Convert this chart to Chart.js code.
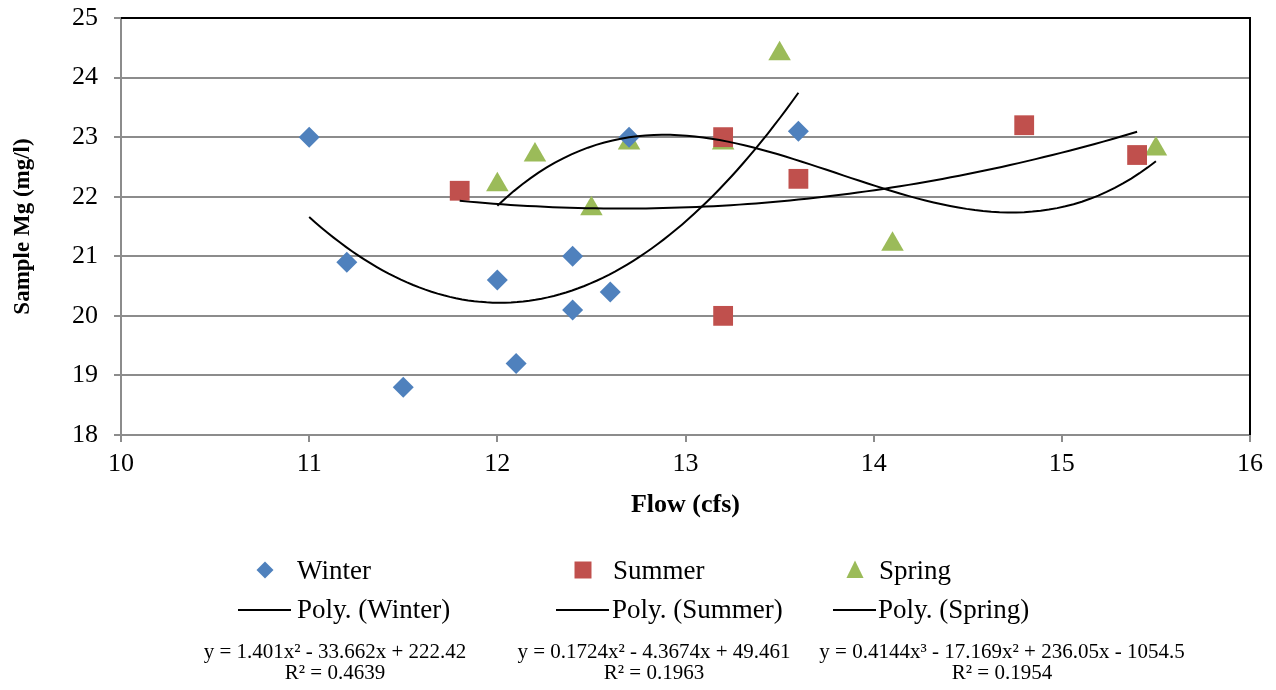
<!DOCTYPE html>
<html>
<head>
<meta charset="utf-8">
<script src="https://cdn.jsdelivr.net/npm/chart.js@4.4.1/dist/chart.umd.min.js"></script>
<style>
  html, body { margin: 0; padding: 0; background: #fff; }
  #wrap { width: 1276px; height: 690px; }
</style>
</head>
<body>
<div id="wrap"><canvas id="mgChart" width="1276" height="690"></canvas></div>
<script>
// Readings
const winterFlow = [11.0, 11.2, 11.5, 12.0, 12.1, 12.4, 12.4, 12.6, 12.7, 13.6];
const winterMg   = [23.0, 20.9, 18.8, 20.6, 19.2, 21.0, 20.1, 20.4, 23.0, 23.1];

const summerFlow = [11.8, 13.2, 13.2, 13.6, 14.8, 15.4];
const summerMg   = [22.1, 23.0, 20.0, 22.3, 23.2, 22.7];

const springFlow = [12.0, 12.2, 12.5, 12.7, 13.2, 13.5, 14.1, 15.5];
const springMg   = [22.2, 22.7, 21.8, 22.9, 22.9, 24.4, 21.2, 22.8];

// Trendline coefficients as printed under the chart (highest power first)
const winterCoef = [1.401, -33.662, 222.42];
const summerCoef = [0.1724, -4.3674, 49.461];
const springCoef = [0.4144, -17.169, 236.05, -1054.5];

const seriesNames = ['Winter', 'Summer', 'Spring'];
const trendNames = ['Poly. (Winter)', 'Poly. (Summer)', 'Poly. (Spring)'];
const equations = [
  'y = 1.401x² - 33.662x + 222.42',
  'y = 0.1724x² - 4.3674x + 49.461',
  'y = 0.4144x³ - 17.169x² + 236.05x - 1054.5'
];
const rSquared = ['R² = 0.4639', 'R² = 0.1963', 'R² = 0.1954'];

const xTicks = [10, 11, 12, 13, 14, 15, 16];
const yTicks = [18, 19, 20, 21, 22, 23, 24, 25];

const colors = ['#4F81BD', '#C0504D', '#9BBB59'];
const styles = ['rectRot', 'rect', 'triangle'];
const FONT = '"Liberation Serif", "Times New Roman", serif';

function toPoints(xs, ys) {
  return xs.map((x, i) => ({ x: x, y: ys[i] }));
}

// trendline drawn across the series' own x-range
function trendPoints(coef, xs) {
  const lo = Math.min(...xs), hi = Math.max(...xs);
  const pts = [];
  const n = 80;
  for (let i = 0; i <= n; i++) {
    const x = lo + (hi - lo) * i / n;
    let y = 0;
    coef.forEach(c => { y = y * x + c; });
    pts.push({ x: x, y: y });
  }
  return pts;
}

const trendDataset = (label, pts) => ({
  type: 'line',
  label: label,
  data: pts,
  borderColor: '#000',
  borderWidth: 2,
  pointRadius: 0,
  fill: false,
  tension: 0
});

const frameAndLegend = {
  id: 'frameAndLegend',
  beforeDatasetsDraw(chart) {
    const { ctx, chartArea: a } = chart;
    ctx.save();
    ctx.strokeStyle = '#000';
    ctx.lineWidth = 2;
    ctx.beginPath();
    ctx.moveTo(a.left, a.top);
    ctx.lineTo(a.right, a.top);
    ctx.lineTo(a.right, a.bottom);
    ctx.stroke();
    ctx.restore();
  },
  afterDraw(chart) {
    const ctx = chart.ctx;
    const lineStart = [238, 556, 833];
    const lineEnd = [291, 609, 876];
    const markerX = [265, 583, 855];
    const textX = [297, 613, 879];
    const polyX = [297, 612, 878];
    const eqX = [335, 654, 1002];
    const sizes = [8.5, 8.5, 9.5];

    ctx.save();
    ctx.font = '27px ' + FONT;
    ctx.fillStyle = '#000';
    ctx.textAlign = 'left';
    ctx.textBaseline = 'alphabetic';
    for (let i = 0; i < 3; i++) {
      // marker row
      const mx = markerX[i], my = 570, s = sizes[i];
      ctx.fillStyle = colors[i];
      ctx.beginPath();
      if (styles[i] === 'rectRot') {
        ctx.moveTo(mx, my - s); ctx.lineTo(mx + s, my); ctx.lineTo(mx, my + s); ctx.lineTo(mx - s, my);
      } else if (styles[i] === 'rect') {
        ctx.rect(mx - s, my - s, 2 * s, 2 * s);
      } else {
        ctx.moveTo(mx, my - s); ctx.lineTo(mx + s * 0.9, my + s * 0.85); ctx.lineTo(mx - s * 0.9, my + s * 0.85);
      }
      ctx.closePath();
      ctx.fill();
      ctx.fillStyle = '#000';
      ctx.fillText(seriesNames[i], textX[i], 579);

      // trendline row
      ctx.strokeStyle = '#000';
      ctx.lineWidth = 2;
      ctx.beginPath();
      ctx.moveTo(lineStart[i], 610);
      ctx.lineTo(lineEnd[i], 610);
      ctx.stroke();
      ctx.fillText(trendNames[i], polyX[i], 618);
    }

    ctx.font = '21px ' + FONT;
    ctx.textAlign = 'center';
    for (let i = 0; i < 3; i++) {
      ctx.fillText(equations[i], eqX[i], 658);
      ctx.fillText(rSquared[i], eqX[i], 679);
    }
    ctx.restore();
  }
};

new Chart(document.getElementById('mgChart'), {
  type: 'scatter',
  data: {
    datasets: [
      trendDataset(trendNames[0], trendPoints(winterCoef, winterFlow)),
      trendDataset(trendNames[1], trendPoints(summerCoef, summerFlow)),
      trendDataset(trendNames[2], trendPoints(springCoef, springFlow)),
      {
        label: seriesNames[0],
        data: toPoints(winterFlow, winterMg),
        pointStyle: 'rectRot',
        pointRadius: 10.5,
        backgroundColor: colors[0],
        borderWidth: 0
      },
      {
        label: seriesNames[1],
        data: toPoints(summerFlow, summerMg),
        pointStyle: 'rect',
        pointRadius: 14,
        backgroundColor: colors[1],
        borderWidth: 0
      },
      {
        label: seriesNames[2],
        data: toPoints(springFlow, springMg),
        pointStyle: 'triangle',
        pointRadius: 13,
        backgroundColor: colors[2],
        borderWidth: 0
      }
    ]
  },
  options: {
    responsive: false,
    animation: false,
    events: [],
    layout: { padding: { left: 0, right: 26, top: 18, bottom: 165 } },
    scales: {
      x: {
        type: 'linear',
        min: xTicks[0],
        max: xTicks[xTicks.length - 1],
        afterBuildTicks: scale => { scale.ticks = xTicks.map(v => ({ value: v })); },
        afterFit: scale => { scale.height = 90; },
        grid: {
          drawOnChartArea: false,
          color: '#8c8c8c',
          lineWidth: 2,
          tickLength: 7
        },
        border: { color: '#8c8c8c', width: 2 },
        ticks: {
          color: '#000',
          padding: 7,
          maxRotation: 0,
          font: { family: FONT, size: 26 }
        },
        title: {
          display: true,
          text: 'Flow (cfs)',
          color: '#000',
          padding: { top: 0, bottom: 4 },
          font: { family: FONT, size: 26, weight: 'bold' }
        }
      },
      y: {
        type: 'linear',
        min: yTicks[0],
        max: yTicks[yTicks.length - 1],
        afterBuildTicks: scale => { scale.ticks = yTicks.map(v => ({ value: v })); },
        afterFit: scale => {
          scale.width = 121;
          scale.paddingTop = 0;
          scale.paddingBottom = 0;
        },
        grid: {
          color: '#8c8c8c',
          lineWidth: 2,
          tickLength: 7
        },
        border: { color: '#8c8c8c', width: 2 },
        ticks: {
          color: '#000',
          padding: 16,
          font: { family: FONT, size: 26 }
        },
        title: {
          display: true,
          text: 'Sample Mg (mg/l)',
          color: '#000',
          padding: { top: 9, bottom: 0 },
          font: { family: FONT, size: 23, weight: 'bold' }
        }
      }
    },
    plugins: {
      legend: { display: false },
      tooltip: { enabled: false }
    }
  },
  plugins: [frameAndLegend]
});
</script>
</body>
</html>
